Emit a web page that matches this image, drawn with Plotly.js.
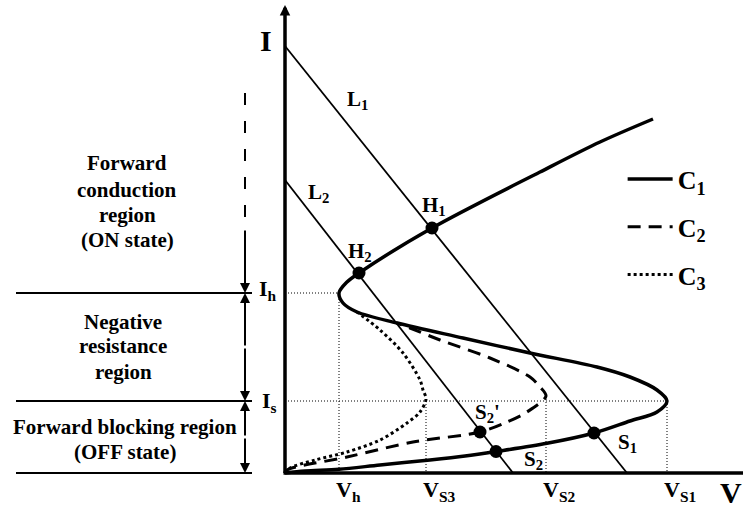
<!DOCTYPE html>
<html>
<head>
<meta charset="utf-8">
<script src="https://cdn.plot.ly/plotly-3.0.1.min.js"></script>
<style>
  html, body { margin: 0; padding: 0; background: #fff; }
  #chart { width: 743px; height: 510px; }
</style>
</head>
<body>
<div id="chart"></div>
<script>
// S-shaped I-V characteristics (arbitrary units) with two load lines.

// Curve C1 (solid): OFF branch up to the switching point, back through the
// negative-resistance branch to the holding point, then the ON branch.
const c1V = [0, 2, 5.4, 9.5, 14.5, 18, 21.1, 26.2, 30.9, 34.5, 37.2, 38.2,
             37.2, 34.5, 31.2, 24.5, 17.8, 11.2, 7.2, 5.8, 5.4, 6.2, 7.4, 14.7, 25.5, 31.5, 36.8];
const c1I = [0, 0.2, 0.37, 0.8, 1.3, 1.7, 2.15, 2.97, 4.0, 5.2, 6.1, 7.2,
             8.3, 9.6, 10.6, 12.0, 13.5, 15.0, 16.1, 17.0, 18.0, 19.1, 20.0, 24.5, 30.1, 33.1, 35.4];

// Curve C2 (dashed)
const c2V = [0, 0.2, 6.2, 12.8, 19.5, 22.2, 24.2, 26.1, 25.5, 24.5, 20.5, 15.5, 12.5, 11.2];
const c2I = [0, 0.3, 1.6, 3.1, 4.1, 5.1, 6.1, 7.7, 8.6, 9.6, 11.5, 13.3, 14.5, 15.0];

// Curve C3 (dotted)
const c3V = [0, 0.5, 3, 6.2, 9.5, 12.2, 13.5, 14.1, 13.8, 13.5, 11.8, 9.5, 7.2];
const c3I = [0, 0.5, 1.3, 2.1, 3.3, 5.0, 6.1, 7.4, 8.3, 9.3, 12.0, 14.3, 16.1];

// Load lines: current intercept and voltage intercept
const loadNames = ['L<sub>1</sub>', 'L<sub>2</sub>'];
const loadI0 = [42.7, 29.3];
const loadV0 = [34.2, 22.8];

// Operating points
const ptNames = ['H<sub>1</sub>', 'H<sub>2</sub>', 'S<sub>1</sub>', 'S<sub>2</sub>', "S<sub>2</sub>'"];
const ptV = [14.7, 7.4, 30.9, 21.1, 19.5];
const ptI = [24.5, 20.0, 4.0, 2.15, 4.1];

// Characteristic levels
const Ih = 18.0, Is = 7.2;
const vNames = ['V<sub>h</sub>', 'V<sub>S3</sub>', 'V<sub>S2</sub>', 'V<sub>S1</sub>'];
const vVals = [5.4, 14.1, 26.1, 38.2];

const FONT = '"Liberation Serif", "Times New Roman", serif';
const BLACK = '#000';
const b = s => '<b>' + s + '</b>';

const traces = [];

// load lines
loadI0.forEach((i0, k) => {
  traces.push({
    x: [0, loadV0[k]], y: [i0, 0], mode: 'lines', showlegend: false,
    line: { color: BLACK, width: 1.8 }, hoverinfo: 'skip'
  });
});

traces.push({
  x: c3V, y: c3I, mode: 'lines', name: b('C<sub>3</sub>'), legendgroup: 'c3', legendrank: 3,
  line: { color: BLACK, width: 3, dash: 'dot', shape: 'spline', smoothing: 0.9 }
});
traces.push({
  x: c2V, y: c2I, mode: 'lines', name: b('C<sub>2</sub>'), legendgroup: 'c2', legendrank: 2,
  line: { color: BLACK, width: 3, dash: '13px,8px', shape: 'spline', smoothing: 0.9 }
});
traces.push({
  x: c1V, y: c1I, mode: 'lines', name: b('C<sub>1</sub>'), legendgroup: 'c1', legendrank: 1,
  line: { color: BLACK, width: 3.5, shape: 'spline', smoothing: 0.9 }
});

traces.push({
  x: ptV, y: ptI, mode: 'markers', showlegend: false,
  marker: { color: BLACK, size: 13 }, hoverinfo: 'skip'
});

// dotted guides and left-hand level lines
const shapes = [];
const guide = { color: BLACK, width: 1, dash: '1px,2px' };
shapes.push({ type: 'line', xref: 'x', yref: 'y', x0: 0, y0: Ih, x1: vVals[0], y1: Ih, line: guide, layer: 'below' });
shapes.push({ type: 'line', xref: 'x', yref: 'y', x0: vVals[0], y0: Ih, x1: vVals[0], y1: 0, line: guide, layer: 'below' });
shapes.push({ type: 'line', xref: 'x', yref: 'y', x0: 0, y0: Is, x1: vVals[3], y1: Is, line: guide, layer: 'below' });
shapes.push({ type: 'line', xref: 'x', yref: 'y', x0: vVals[1], y0: Is, x1: vVals[1], y1: 0, line: guide, layer: 'below' });
shapes.push({ type: 'line', xref: 'x', yref: 'y', x0: vVals[2], y0: c2I[7], x1: vVals[2], y1: 0, line: guide, layer: 'below' });
shapes.push({ type: 'line', xref: 'x', yref: 'y', x0: vVals[3], y0: Is, x1: vVals[3], y1: 0, line: guide, layer: 'below' });

// region boundary lines on the left
[Ih, Is, 0].forEach(lv => {
  shapes.push({ type: 'line', xref: 'x', yref: 'y', x0: -26.9, y0: lv, x1: -3.3, y1: lv,
    line: { color: BLACK, width: 2 } });
});
// dashed part of the ON-region marker
shapes.push({ type: 'line', xref: 'x', yref: 'y', x0: -4.0, y0: 38.0, x1: -4.0, y1: 24.0,
  line: { color: BLACK, width: 2, dash: '12px,16px' } });

// V axis
shapes.push({ type: 'line', xref: 'x', yref: 'y', x0: -0.15, y0: 0, x1: 46, y1: 0,
  line: { color: BLACK, width: 3.5 } });

const annotations = [];
function arrow(x, y, ax, ay, w, s) {
  annotations.push({ x: x, y: y, ax: ax, ay: ay, xref: 'x', yref: 'y', axref: 'x', ayref: 'y',
    text: '', showarrow: true, arrowhead: 2, arrowwidth: w, arrowsize: s, arrowcolor: BLACK, standoff: 0 });
}
// I axis with arrow
arrow(0, 46.8, 0, -0.15, 3.5, 0.6);
// region arrows
const ax0 = -4.0;
arrow(ax0, Ih, ax0, 24.4, 2, 1);
arrow(ax0, Ih, ax0, (Ih + Is) / 2, 2, 1);
arrow(ax0, Is, ax0, (Ih + Is) / 2, 2, 1);
arrow(ax0, Is, ax0, Is / 2, 2, 1);
arrow(ax0, 0, ax0, Is / 2, 2, 1);

function label(text, x, y, size, opts) {
  annotations.push(Object.assign({ text: b(text), x: x, y: y, xref: 'x', yref: 'y', showarrow: false,
    font: { family: FONT, size: size, color: BLACK, weight: 'bold' } }, opts || {}));
}

// axis names
label('I', -1.9, 43.3, 30);
label('V', 44.6, -3.65, 30, { yanchor: 'bottom', borderpad: 0 });

// load line names
label(loadNames[0], 7.2, 37.3, 21);
label(loadNames[1], 3.3, 28.0, 21);

// operating point names
const ptOff = [[0.2, 2.2], [0.1, 2.1], [3.3, -1.0], [3.7, -0.85], [0.7, 1.9]];
ptNames.forEach((n, k) => label(n, ptV[k] + ptOff[k][0], ptI[k] + ptOff[k][1], 21));

// level names
label('I<sub>h</sub>', -0.6, Ih, 22, { xanchor: 'right', yanchor: 'middle', yshift: 3 });
label('I<sub>s</sub>', -0.6, Is, 22, { xanchor: 'right', yanchor: 'middle', yshift: -1 });
vNames.forEach((n, k) => label(n, vVals[k], 0, 22, { xanchor: 'left', yanchor: 'top', xshift: -5, yshift: -2 }));

// region descriptions
const regionLines = [
  ['Forward', -15.8, 31.0], ['conduction', -15.8, 28.3], ['region', -15.8, 25.8], ['(ON state)', -15.8, 23.3],
  ['Negative', -16.2, 15.1], ['resistance', -16.2, 12.7], ['region', -16.2, 10.1],
  ['Forward blocking region', -16.0, 4.6], ['(OFF state)', -16.0, 2.1]
];
regionLines.forEach(r => label(r[0], r[1], r[2], 21));

const layout = {
  width: 743, height: 510,
  margin: { l: 0, r: 0, t: 0, b: 0, pad: 0 },
  paper_bgcolor: '#fff', plot_bgcolor: '#fff',
  font: { family: FONT, color: BLACK, weight: 'bold' },
  xaxis: { range: [-28.5, 45.8], autorange: false, visible: false, fixedrange: true },
  yaxis: { range: [-3.7, 47.3], autorange: false, visible: false, fixedrange: true },
  showlegend: true,
  legend: {
    x: 0.838, xanchor: 'left', y: 0.695, yanchor: 'top',
    font: { family: FONT, size: 26, color: BLACK, weight: 'bold' },
    traceorder: 'grouped', tracegroupgap: 11, itemwidth: 45,
    bgcolor: 'rgba(0,0,0,0)', borderwidth: 0
  },
  shapes: shapes,
  annotations: annotations,
  hovermode: false
};

Plotly.newPlot('chart', traces, layout, { staticPlot: true, displayModeBar: false });
</script>
</body>
</html>
